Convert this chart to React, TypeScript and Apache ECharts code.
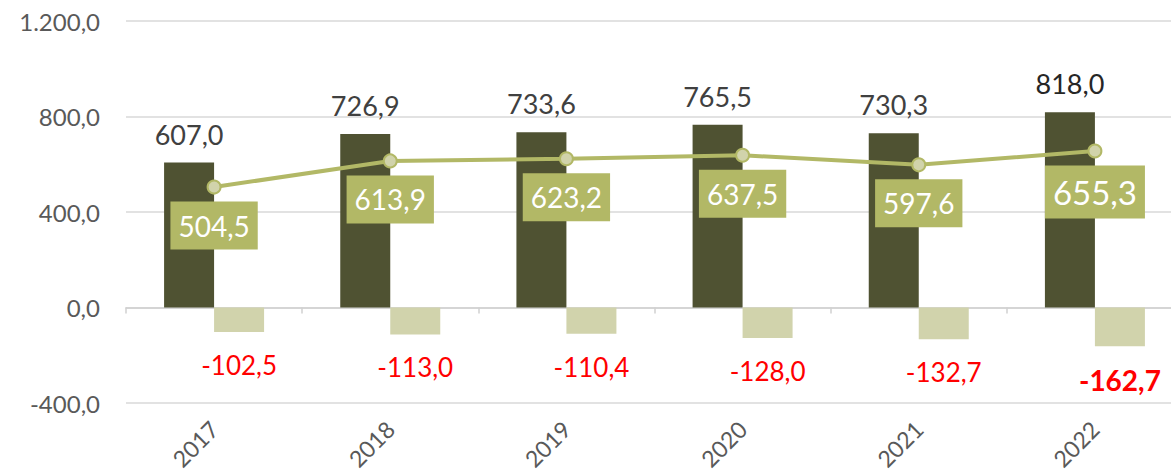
import React, { useEffect, useRef } from "react";
import * as echarts from "echarts";

const categories = ["2017", "2018", "2019", "2020", "2021", "2022"];
const totalValues = [607.0, 726.9, 733.6, 765.5, 730.3, 818.0];
const lineValues = [504.5, 613.9, 623.2, 637.5, 597.6, 655.3];
const negValues = [-102.5, -113.0, -110.4, -128.0, -132.7, -162.7];
const yMin = -400;
const yMax = 1200;
const yInterval = 400;

const FONT = "Lato";

function fmt(v: number): string {
  const fixed = Math.abs(v).toFixed(1);
  const [intPart, dec] = fixed.split(".");
  const withSep = intPart.replace(/\B(?=(\d{3})+(?!\d))/g, ".");
  return (v < 0 ? "-" : "") + withSep + "," + dec;
}

export default function App() {
  const ref = useRef<HTMLDivElement>(null);
  useEffect(() => {
    if (!ref.current) return;
    const chart = echarts.init(ref.current, undefined, { renderer: "svg" });
    const last = categories.length - 1;
    chart.setOption({
      animation: false,
      grid: { left: 126, top: 21, width: 1057, height: 382, containLabel: false },
      xAxis: [
        {
          type: "category",
          data: categories,
          axisLine: { onZero: true, lineStyle: { color: "#d0d0d0", width: 1.5 } },
          axisTick: { show: true, length: 6, lineStyle: { color: "#d0d0d0", width: 1.5 } },
          axisLabel: { show: false },
          splitLine: { show: false },
        },
        {
          type: "category",
          data: categories,
          position: "bottom",
          axisLine: { show: false, onZero: false },
          axisTick: { show: false },
          axisLabel: {
            rotate: 45,
            margin: 22,
            color: "#595959",
            fontSize: 23,
            fontFamily: FONT,
          },
          splitLine: { show: false },
        },
      ],
      yAxis: {
        type: "value",
        min: yMin,
        max: yMax,
        interval: yInterval,
        axisLine: { show: false },
        axisTick: { show: false },
        axisLabel: {
          margin: 26,
          color: "#595959",
          fontSize: 24,
          fontFamily: FONT,
          formatter: (v: number) => fmt(v),
        },
        splitLine: { lineStyle: { color: "#d9d9d9", width: 1.5 } },
      },
      series: [
        {
          type: "bar",
          xAxisIndex: 0,
          data: totalValues.map((v, i) =>
            i === last ? { value: v, label: { color: "#262626" } } : v
          ),
          barWidth: 50,
          barGap: "0%",
          itemStyle: { color: "#4f5232" },
          label: {
            show: true,
            position: "top",
            distance: 15,
            color: "#404040",
            fontSize: 27,
            fontFamily: FONT,
            formatter: (p: any) => fmt(p.value),
          },
          z: 2,
        },
        {
          type: "bar",
          xAxisIndex: 0,
          data: negValues.map((v, i) =>
            i === last ? { value: v, label: { fontWeight: "bold", fontSize: 28 } } : v
          ),
          barWidth: 50,
          barGap: "0%",
          itemStyle: { color: "#d1d3ac" },
          label: {
            show: true,
            position: "bottom",
            distance: 20,
            color: "#ff0000",
            fontSize: 26,
            fontFamily: FONT,
            formatter: (p: any) => fmt(p.value),
          },
          z: 2,
        },
        {
          type: "line",
          xAxisIndex: 0,
          data: lineValues.map((v, i) =>
            i === last ? { value: v, label: { fontSize: 33 } } : v
          ),
          lineStyle: { color: "#b2b866", width: 4 },
          symbol: "circle",
          symbolSize: 13,
          itemStyle: { color: "#d1d3ab", borderColor: "#b2b866", borderWidth: 2 },
          label: {
            show: true,
            position: "bottom",
            distance: 7,
            color: "#ffffff",
            backgroundColor: "#b2b866",
            padding: [10, 8, 10, 8],
            fontSize: 28,
            fontFamily: FONT,
            formatter: (p: any) => fmt(p.value),
          },
          z: 5,
        },
      ],
    });
    return () => chart.dispose();
  }, []);
  return (
    <div
      style={{
        position: "absolute",
        left: 0,
        top: 0,
        width: 1171,
        height: 476,
        overflow: "hidden",
      }}
    >
      <div ref={ref} style={{ width: 1183, height: 476 }} />
    </div>
  );
}
